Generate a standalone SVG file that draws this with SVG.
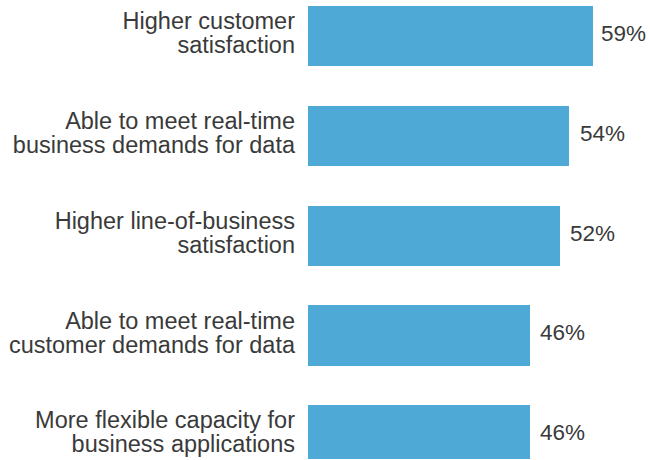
<svg xmlns="http://www.w3.org/2000/svg" width="650" height="460" viewBox="0 0 650 460">
<style>
.bar{fill:#4FA9D7}
.lbl{font-family:"Liberation Sans",Arial,sans-serif;font-size:23.5px;fill:#3a3a3a;text-anchor:end}
.val{font-family:"Liberation Sans",Arial,sans-serif;font-size:22.5px;fill:#3a3a3a}
</style>
<rect width="650" height="460" fill="#fff"/>
<g id="row1">
<rect class="bar" x="308" y="6" width="285" height="60"/>
<text class="lbl" x="295" y="29">Higher customer</text>
<text class="lbl" x="295" y="53">satisfaction</text>
<text class="val" x="601" y="41">59%</text>
</g>
<g id="row2">
<rect class="bar" x="308" y="106" width="261" height="60"/>
<text class="lbl" x="295" y="129">Able to meet real-time</text>
<text class="lbl" x="295" y="153">business demands for data</text>
<text class="val" x="580" y="141">54%</text>
</g>
<g id="row3">
<rect class="bar" x="308" y="206" width="252" height="60"/>
<text class="lbl" x="295" y="229">Higher line-of-business</text>
<text class="lbl" x="295" y="253">satisfaction</text>
<text class="val" x="570" y="241">52%</text>
</g>
<g id="row4">
<rect class="bar" x="308" y="305" width="222" height="61"/>
<text class="lbl" x="295" y="329">Able to meet real-time</text>
<text class="lbl" x="295" y="353">customer demands for data</text>
<text class="val" x="540" y="340">46%</text>
</g>
<g id="row5">
<rect class="bar" x="308" y="405" width="222" height="54"/>
<text class="lbl" x="295" y="428">More flexible capacity for</text>
<text class="lbl" x="295" y="452">business applications</text>
<text class="val" x="540" y="440">46%</text>
</g>
</svg>
